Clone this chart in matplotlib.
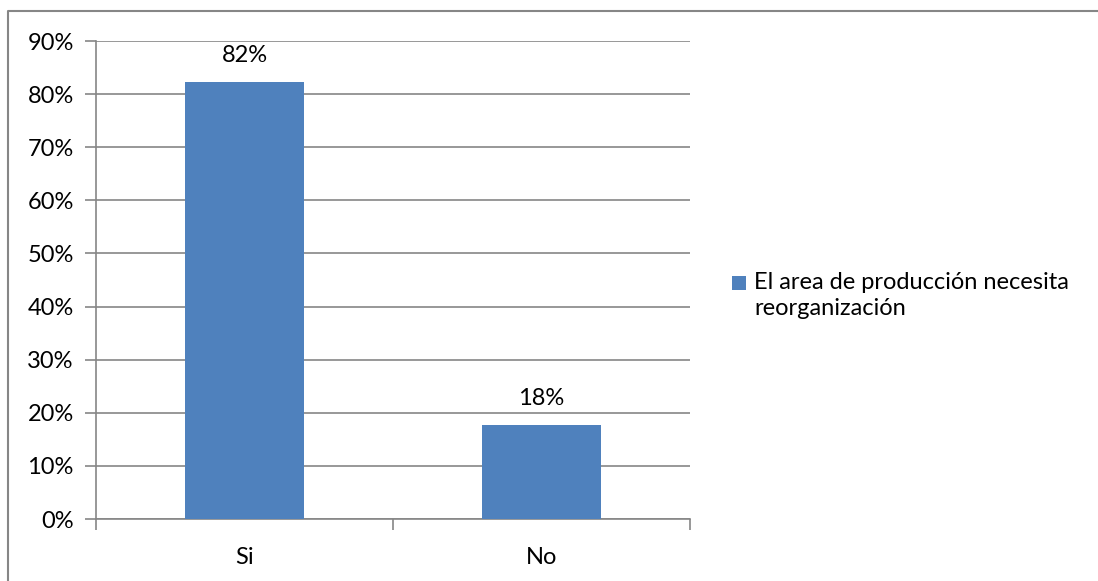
import matplotlib
matplotlib.use("Agg")
import matplotlib.pyplot as plt
from matplotlib.lines import Line2D
from matplotlib.patches import Rectangle
from matplotlib.ticker import PercentFormatter, FixedLocator

categories = ["Si", "No"]
values = [0.8235, 0.1765]
series_name = "El area de producción necesita\nreorganización"
y_ticks = [0.0, 0.1, 0.2, 0.3, 0.4, 0.5, 0.6, 0.7, 0.8, 0.9]

BAR_COLOR = "#4F81BD"
GRID_COLOR = "#868686"
FONT = "Lato"
FS = 17
W, H = 1098, 581

plt.rcParams["font.family"] = [FONT, "DejaVu Sans"]

fig = plt.figure(figsize=(W / 100, H / 100), dpi=100)
ax = fig.add_axes([96 / W, 1 - 519 / H, (690 - 96) / W, (519 - 41) / H])

x = list(range(len(categories)))
bars = ax.bar(x, values, width=0.4, color=BAR_COLOR, zorder=3)

for xi, v in zip(x, values):
    ax.text(xi, v + 0.03, f"{v:.0%}", ha="center", va="bottom",
            fontsize=FS, color="black")

ax.set_xlim(-0.5, len(categories) - 0.5)
ax.set_ylim(0, 0.9)
ax.set_yticks(y_ticks)
ax.yaxis.set_major_formatter(PercentFormatter(1.0, decimals=0))
ax.grid(axis="y", color=GRID_COLOR, linewidth=1.2, zorder=0)

ax.set_xticks(x)
ax.set_xticklabels(categories)
ax.xaxis.set_minor_locator(FixedLocator([i - 0.5 for i in range(len(categories) + 1)]))
ax.tick_params(axis="x", which="major", length=0, pad=20, labelsize=FS)
ax.tick_params(axis="x", which="minor", length=8, width=1.2, color=GRID_COLOR)
ax.tick_params(axis="y", length=8, width=1.2, color=GRID_COLOR, pad=8, labelsize=FS)

for side in ("top", "right"):
    ax.spines[side].set_visible(False)
for side in ("left", "bottom"):
    ax.spines[side].set_color(GRID_COLOR)
    ax.spines[side].set_linewidth(1.2)

# chart area border (top and left edges)
fx0 = 8 / W
fy0 = 1 - 11 / H
fig.add_artist(Line2D([fx0, fx0, 1.0], [0.0, fy0, fy0], transform=fig.transFigure,
                      color=GRID_COLOR, linewidth=1.5))

# legend: colour key aligned with the first line of its label
fig.add_artist(Rectangle((732 / W, 1 - 290 / H), 14 / W, 14 / H,
                         transform=fig.transFigure, facecolor=BAR_COLOR,
                         edgecolor="none"))
fig.text(754 / W, 1 - 289 / H, series_name.split("\n")[0], ha="left",
         va="baseline", fontsize=FS)
fig.text(754 / W, 1 - 315 / H, series_name.split("\n")[1], ha="left",
         va="baseline", fontsize=FS)

fig.savefig("out.png", dpi=100)
